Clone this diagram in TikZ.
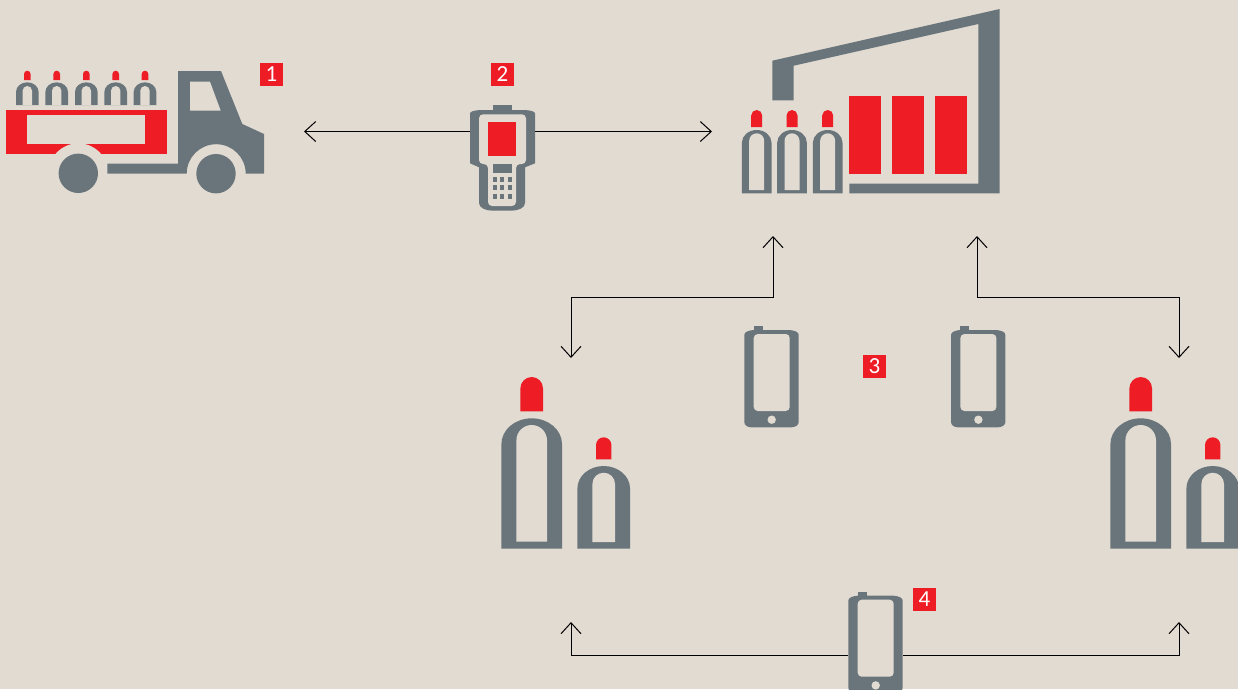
\documentclass[tikz,border=0pt]{standalone}
\usepackage{fontspec}
\setmainfont{Carlito}
\usetikzlibrary{arrows.meta}

\definecolor{paper}{HTML}{E1DBD2}
\definecolor{slate}{HTML}{6A757B}
\definecolor{signal}{HTML}{EE1C25}

% cx, top, bottom, outer half width, inner half width, inner top, inner bottom
\newcommand{\bottlebody}[7]{
    \fill[slate] ({#1-#4},#3) -- ({#1-#4},{#2+0.85*#4}) arc[start angle=180,end angle=0,x radius=#4pt,y radius=0.85*#4pt] -- ({#1+#4},#3) -- cycle;
    \fill[paper] ({#1-#5},#7) -- ({#1-#5},{#6+#5}) arc[start angle=180,end angle=0,radius=#5pt] -- ({#1+#5},#7) -- cycle;
}
% cx, half width, top, bottom
\newcommand{\bottlecap}[4]{
    \fill[signal] ({#1-#2},#4) -- ({#1-#2},{#3+#2}) arc[start angle=180,end angle=0,radius=#2pt] -- ({#1+#2},#4) -- cycle;
}

\tikzset{
    arr/.style={black,line width=1pt,{Straight Barb[length=11pt,width=20pt]}-{Straight Barb[length=11pt,width=20pt]}},
    badge/.style={fill=signal,text=white,minimum size=23pt,inner sep=0pt,font=\fontsize{23}{23}\selectfont},
    device/.style={minimum height=1pt,inner sep=0pt},
    phone/.pic={
        \fill[slate] (0,5) .. controls (0,2) and (4,0.5) .. (9,0) -- (45.4,0) .. controls (50.4,0.5) and (54.4,2) .. (54.4,5) -- (54.4,92) .. controls (54.4,95) and (51,97.3) .. (47,97.3) -- (7,97.3) .. controls (3,97.3) and (0,95) .. (0,92) -- cycle;
        \fill[slate] (9.4,-4) rectangle (18.4,1);
        \fill[paper,rounded corners=4pt] (9.4,4) rectangle (45.4,81);
        \fill[paper] (27.4,89.7) circle[radius=4.2pt];
    }
}

\begin{document}
\begin{tikzpicture}[x=1pt,y=-1pt]
    \fill[paper] (0,0) rectangle (1238,689);
    \clip (0,0) rectangle (1238,689);

    % Nodes and free ends
    \node[device,minimum width=65pt] (reader) at (502.5,131.5) {};
    \node[device,minimum width=54.6pt] (phoneC) at (875.6,655.3) {};
    \coordinate (truckEnd) at (304,131.5);
    \coordinate (depotEnd) at (712,131.5);
    \coordinate (depotL) at (773,236);
    \coordinate (depotR) at (977,236);
    \coordinate (groupL) at (571,358);
    \coordinate (groupR) at (1179,358);
    \coordinate (groupLb) at (571,622);
    \coordinate (groupRb) at (1179,622);

    % Connectors
    \draw[arr,{Straight Barb[length=11pt,width=20pt]}-] (truckEnd) -- (reader);
    \draw[arr,-{Straight Barb[length=11pt,width=20pt]}] (reader) -- (depotEnd);
    \draw[arr] (depotL) -- ++(0,61) -| (groupL);
    \draw[arr] (depotR) -- ++(0,61) -| (groupR);
    \draw[arr,-{Straight Barb[length=11pt,width=20pt]}] (phoneC) -| (groupLb);
    \draw[arr,-{Straight Barb[length=11pt,width=20pt]}] (phoneC) -| (groupRb);

    % Truck
    \fill[signal] (6,110.3) rectangle (166.7,154);
    \fill[paper] (27.3,115) rectangle (145.3,144.3);
    \fill[paper] (78.3,173.3) circle[radius=30pt];
    \fill[slate] (78.3,173.3) circle[radius=19.7pt];
    \fill[slate] (178,71) -- (221,71) -- (242.3,124) -- (264,134) -- (264,173.7) -- (245.7,173.7)
        arc[start angle=0,end angle=180,radius=29.5pt] -- (107.3,173.7) -- (107.3,163.7) -- (178,163.7) -- cycle;
    \fill[paper] (190,81.7) -- (210,81.7) -- (220.7,110.7) -- (190,110.7) -- cycle;
    \fill[slate] (216,173.7) circle[radius=19.7pt];
    \foreach \cx in {27.3,56.7,86.3,115.7,145} {
        \bottlebody{\cx}{82.3}{105}{11.3}{4.7}{86}{105}
        \bottlecap{\cx}{3.3}{70.7}{80}
    }

    % Handheld reader
    \fill[slate] (493,105.3) rectangle (512,112);
    \fill[slate] (470,113.5) .. controls (470,111.5) and (474,110.5) .. (480,110) -- (525,110)
        .. controls (531,110.5) and (535,111.5) .. (535,113.5) -- (535,163.3) -- (525,167.3) -- (525,203)
        .. controls (525,208) and (518,210.7) .. (511,210.7) -- (493,210.7)
        .. controls (486,210.7) and (479,208) .. (479,203) -- (479,167.3) -- (470,163.3) -- cycle;
    \fill[paper,rounded corners=4pt] (479,114.3) -- (526,114.3) -- (526,164) -- (516,164) -- (516,206) -- (488,206) -- (488,164) -- (479,164) -- cycle;
    \fill[signal] (488,122) rectangle (516,156);
    \fill[slate] (493,164) rectangle (512,173);
    \foreach \kx in {493,500.3,508} {
        \foreach \ky in {177,185,194} {
            \fill[slate] (\kx,\ky) rectangle ({\kx+4},{\ky+5});
        }
    }

    % Warehouse
    \fill[slate] (772.3,60.7) -- (999.7,9) -- (999.7,193.3) -- (849.3,193.3) -- (849.3,183.7) -- (978.3,183.7)
        -- (978.3,24) -- (793.7,65.7) -- (793.7,100.3) -- (772.3,100.3) -- cycle;
    \foreach \bx in {849,892,935} {
        \fill[signal] (\bx,96) rectangle ({\bx+32},174);
    }
    \foreach \cx in {756.7,792,827.7} {
        \bottlebody{\cx}{130}{193.3}{14.8}{7.5}{133.3}{190}
        \bottlecap{\cx}{5.5}{110}{127}
    }

    % Bottle groups
    \foreach \dx in {0,609} {
        \bottlebody{531.7+\dx}{418.3}{548.7}{30.3}{15.3}{425}{541.7}
        \bottlecap{531.7+\dx}{11.3}{377}{411.3}
        \bottlebody{603.7+\dx}{466}{548.7}{26.3}{11.3}{472.7}{542}
        \bottlecap{603.7+\dx}{7.7}{437.3}{459.3}
    }

    % Phones
    \pic at (744.3,330) {phone};
    \pic at (951,330) {phone};
    \pic at (848.3,595.7) {phone};

    % Badges
    \node[badge] (badgeA) at (271.5,74.5) {1};
    \node[badge] (badgeB) at (502.5,74.5) {2};
    \node[badge] (badgeC) at (874.5,366.5) {3};
    \node[badge] (badgeD) at (924.5,599.5) {4};
\end{tikzpicture}
\end{document}
